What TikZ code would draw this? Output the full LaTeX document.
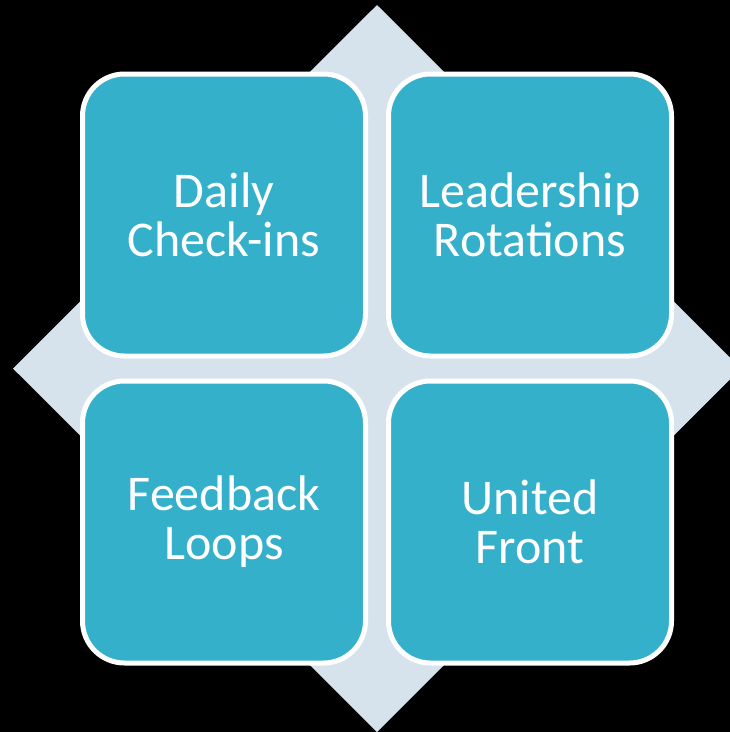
\documentclass[tikz,border=0pt]{standalone}
\usepackage{fontspec}
\setmainfont{Carlito}
\usepackage{xcolor}
\usetikzlibrary{positioning}
\definecolor{tileTeal}{RGB}{52,176,202}
\definecolor{diamondGrey}{RGB}{214,227,237}

\begin{document}
\begin{tikzpicture}[x=1pt, y=-1pt, node distance=18pt,
    tile/.style={draw=white, line width=5pt, fill=tileTeal, rounded corners=42pt,
                 minimum width=283pt, minimum height=282pt, inner sep=0pt,
                 align=center, text=white, font=\fontsize{50}{49}\selectfont}]
    % background
    \fill[black] (0,0) rectangle (730,732);
    \useasboundingbox (0,0) rectangle (730,732);
    % diamond behind the tiles
    \fill[diamondGrey] (377,5) -- (741,368.5) -- (377,732) -- (13,368.5) -- cycle;

    % tiles
    \node[tile] (daily) at (224,215) {Daily\\Check-ins};
    \node[tile, right=of daily] (leadership) {Leadership\\Rotations};
    \node[tile, below=20pt of daily] (feedback) {Feedback\\Loops};
    \node[tile, below=20pt of leadership] (united) {United\\Front};
\end{tikzpicture}
\end{document}
